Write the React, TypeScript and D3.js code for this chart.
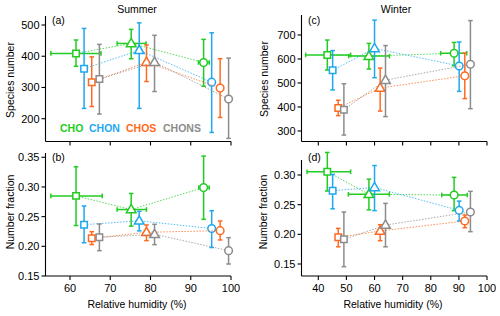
import React from "react";
import * as d3 from "d3";

const SERIES = ["CHO", "CHON", "CHOS", "CHONS"];
const COLORS = ["#22cc22", "#1fa8ef", "#ff6a20", "#8c8c8c"];

// ---- Summer: relative humidity (x) per series, for the three cases (square, triangle, circle)
const summerRH = [
  [61.5, 75.2, 93.2],
  [63.5, 77.2, 95.2],
  [65.4, 79.0, 97.3],
  [67.3, 81.0, 99.4],
];
const summerRHLoA = [55.25, 71.7, 91.9];
const summerRHHiA = [67.7, 78.9, 94.6];
const summerRHLoB = [55.25, 71.7, 92.0];
const summerRHHiB = [68.0, 79.0, 94.6];

// Summer species number
const summerSpecies = [
  [409, 441, 380],
  [360, 419, 317],
  [317, 381, 298],
  [327, 381, 263],
];
const summerSpeciesLo = [
  [368, 392, 304],
  [233, 233, 156],
  [239, 319, 204],
  [215, 287, 137],
];
const summerSpeciesHi = [
  [452, 486, 454],
  [489, 507, 475],
  [398, 436, 392],
  [438, 467, 394],
];

// Summer number fraction
const summerFrac = [
  [0.285, 0.262, 0.299],
  [0.2365, 0.243, 0.23],
  [0.2135, 0.2236, 0.2264],
  [0.2152, 0.2202, 0.1927],
];
const summerFracLo = [
  [0.235, 0.234, 0.2455],
  [0.206, 0.226, 0.198],
  [0.203, 0.2096, 0.2107],
  [0.1927, 0.2028, 0.1702],
];
const summerFracHi = [
  [0.334, 0.289, 0.352],
  [0.268, 0.259, 0.26],
  [0.2247, 0.236, 0.2427],
  [0.2376, 0.2371, 0.2146],
];

// ---- Winter
const winterRH = [
  [43.2, 58.0, 88.3],
  [45.1, 60.0, 90.1],
  [47.1, 62.0, 92.1],
  [49.1, 63.9, 94.1],
];
const winterRHLoC = [35.5, 50.8, 83.5];
const winterRHHiC = [51.5, 65.3, 92.8];
const winterRHLoD = [36.0, 50.7, 83.9];
const winterRHHiD = [51.5, 65.3, 93.0];

const winterSpecies = [
  [617, 612, 624],
  [553, 644, 571],
  [396, 479, 530],
  [389, 512, 578],
];
const winterSpeciesLo = [
  [554, 558, 572],
  [471, 522, 465],
  [364, 383, 435],
  [283, 360, 393],
];
const winterSpeciesHi = [
  [679, 665, 669],
  [635, 762, 671],
  [428, 562, 625],
  [497, 656, 760],
];

const winterFrac = [
  [0.3056, 0.2674, 0.2663],
  [0.2735, 0.279, 0.2404],
  [0.195, 0.2056, 0.2225],
  [0.1916, 0.2157, 0.2376],
];
const winterFracLo = [
  [0.273, 0.2413, 0.24],
  [0.243, 0.24, 0.2225],
  [0.179, 0.1893, 0.2112],
  [0.1455, 0.179, 0.2045],
];
const winterFracHi = [
  [0.338, 0.293, 0.296],
  [0.301, 0.316, 0.256],
  [0.21, 0.2163, 0.2326],
  [0.2376, 0.2522, 0.2725],
];

const summerXTicks = [60, 70, 80, 90, 100];
const winterXTicks = [40, 50, 60, 70, 80, 90, 100];
const speciesTicksSummer = [200, 300, 400, 500];
const speciesTicksWinter = [300, 400, 500, 600, 700];
const fracTicksSummer = [0.15, 0.2, 0.25, 0.3, 0.35];
const fracTicksWinter = [0.15, 0.2, 0.25, 0.3];

const FONT = "'Liberation Sans', Arial, Helvetica, sans-serif";

type PanelProps = {
  x: d3.ScaleLinear<number, number>;
  y: d3.ScaleLinear<number, number>;
  xExtent: [number, number];
  yExtent: [number, number];
  xTicks: number[];
  yTicks: number[];
  showXLabels: boolean;
  yFormat: (v: number) => string;
  rh: number[][];
  rhLo: number[];
  rhHi: number[];
  val: number[][];
  lo: number[][];
  hi: number[][];
};

const symbols = [d3.symbolSquare, d3.symbolTriangle, d3.symbolCircle];
const symbolSizes = [42, 40, 46];

function Panel(p: PanelProps) {
  const { x, y, xExtent, yExtent } = p;
  const cap = 2.3;
  return (
    <g>
      {/* axes */}
      <line x1={xExtent[0]} x2={xExtent[1]} y1={yExtent[0]} y2={yExtent[0]} stroke="#000" strokeWidth={1.1} />
      <line x1={xExtent[0]} x2={xExtent[0]} y1={yExtent[0]} y2={yExtent[1]} stroke="#000" strokeWidth={1.1} />
      {p.xTicks.map((t) => (
        <g key={"xt" + t}>
          <line x1={x(t)} x2={x(t)} y1={yExtent[0]} y2={yExtent[0] + 4} stroke="#000" strokeWidth={1.1} />
          {p.showXLabels && (
            <text x={x(t)} y={yExtent[0] + 16} textAnchor="middle" fontSize={11} fontFamily={FONT}>
              {t}
            </text>
          )}
        </g>
      ))}
      {p.yTicks.map((t) => (
        <g key={"yt" + t}>
          <line x1={xExtent[0] - 4} x2={xExtent[0]} y1={y(t)} y2={y(t)} stroke="#000" strokeWidth={1.1} />
          <text x={xExtent[0] - 6} y={y(t) + 4} textAnchor="end" fontSize={11} fontFamily={FONT}>
            {p.yFormat(t)}
          </text>
        </g>
      ))}
      {/* series */}
      {SERIES.map((s, si) => {
        const col = COLORS[si];
        const pts = p.rh[si].map((r, k) => [x(r), y(p.val[si][k])] as [number, number]);
        const path = d3.line()(pts) || "";
        return (
          <g key={s}>
            <path d={path} fill="none" stroke={col} strokeWidth={1} strokeDasharray="1.5 1.5" opacity={0.75} />
            {p.rh[si].map((r, k) => {
              const cx = x(r);
              const cy = y(p.val[si][k]);
              const y1 = y(p.lo[si][k]);
              const y2 = y(p.hi[si][k]);
              return (
                <g key={k}>
                  <line x1={cx} x2={cx} y1={y1} y2={y2} stroke={col} strokeWidth={1.5} />
                  <line x1={cx - cap} x2={cx + cap} y1={y1} y2={y1} stroke={col} strokeWidth={1.5} />
                  <line x1={cx - cap} x2={cx + cap} y1={y2} y2={y2} stroke={col} strokeWidth={1.5} />
                  {si === 0 && (
                    <g>
                      <line x1={x(p.rhLo[k])} x2={x(p.rhHi[k])} y1={cy} y2={cy} stroke={col} strokeWidth={1.5} />
                      <line x1={x(p.rhLo[k])} x2={x(p.rhLo[k])} y1={cy - cap} y2={cy + cap} stroke={col} strokeWidth={1.5} />
                      <line x1={x(p.rhHi[k])} x2={x(p.rhHi[k])} y1={cy - cap} y2={cy + cap} stroke={col} strokeWidth={1.5} />
                    </g>
                  )}
                  <path
                    d={d3.symbol().type(symbols[k]).size(symbolSizes[k])() || ""}
                    transform={`translate(${cx},${cy + (k === 1 ? 0.5 : 0)})`}
                    fill="#fff"
                    stroke={col}
                    strokeWidth={1.5}
                  />
                </g>
              );
            })}
          </g>
        );
      })}
    </g>
  );
}

export default function App() {
  // Scales anchored on tick positions
  const xS = d3.scaleLinear().domain([60, 100]).range([70, 231]);
  const xW = d3.scaleLinear().domain([40, 100]).range([318.3, 487]);
  const yA = d3.scaleLinear().domain([200, 500]).range([118.7, 25]);
  const yB = d3.scaleLinear().domain([0.15, 0.35]).range([276, 157.3]);
  const yC = d3.scaleLinear().domain([300, 700]).range([131, 35]);
  const yD = d3.scaleLinear().domain([0.15, 0.3]).range([264, 175]);
  const f2 = d3.format(".2f");
  const f0 = d3.format("d");

  return (
    <svg
      width={500}
      height={316}
      style={{ position: "absolute", left: 0, top: 0, background: "#fff" }}
      fontFamily={FONT}
    >
      <rect width={500} height={316} fill="#fff" />
      <text x={137} y={13} textAnchor="middle" fontSize={10.5}>Summer</text>
      <text x={396} y={13} textAnchor="middle" fontSize={10.5}>Winter</text>

      <Panel x={xS} y={yA} xExtent={[45.5, 231]} yExtent={[141.5, 16]} xTicks={summerXTicks}
        yTicks={speciesTicksSummer} showXLabels={false} yFormat={f0}
        rh={summerRH} rhLo={summerRHLoA} rhHi={summerRHHiA}
        val={summerSpecies} lo={summerSpeciesLo} hi={summerSpeciesHi} />
      <Panel x={xS} y={yB} xExtent={[45.5, 231]} yExtent={[276, 153]} xTicks={summerXTicks}
        yTicks={fracTicksSummer} showXLabels={true} yFormat={f2}
        rh={summerRH} rhLo={summerRHLoB} rhHi={summerRHHiB}
        val={summerFrac} lo={summerFracLo} hi={summerFracHi} />
      <Panel x={xW} y={yC} xExtent={[301.5, 487]} yExtent={[141.5, 15]} xTicks={winterXTicks}
        yTicks={speciesTicksWinter} showXLabels={false} yFormat={f0}
        rh={winterRH} rhLo={winterRHLoC} rhHi={winterRHHiC}
        val={winterSpecies} lo={winterSpeciesLo} hi={winterSpeciesHi} />
      <Panel x={xW} y={yD} xExtent={[301.5, 487]} yExtent={[276, 160]} xTicks={winterXTicks}
        yTicks={fracTicksWinter} showXLabels={true} yFormat={f2}
        rh={winterRH} rhLo={winterRHLoD} rhHi={winterRHHiD}
        val={winterFrac} lo={winterFracLo} hi={winterFracHi} />

      {/* panel labels */}
      <text x={52} y={24} fontSize={10.5}>(a)</text>
      <text x={52} y={161} fontSize={10.5}>(b)</text>
      <text x={308} y={24} fontSize={10.5}>(c)</text>
      <text x={308} y={161} fontSize={10.5}>(d)</text>

      {/* legend */}
      {SERIES.map((s, i) => (
        <text key={s} x={[60, 89, 126, 163][i]} y={132} fontSize={10.5} fontWeight="bold" fill={COLORS[i]}>
          {s}
        </text>
      ))}

      {/* axis titles */}
      <text transform="translate(14,80) rotate(-90)" textAnchor="middle" fontSize={10.5}>Species number</text>
      <text transform="translate(14,212) rotate(-90)" textAnchor="middle" fontSize={10.5}>Number fraction</text>
      <text transform="translate(268,79) rotate(-90)" textAnchor="middle" fontSize={10.5}>Species number</text>
      <text transform="translate(267,212) rotate(-90)" textAnchor="middle" fontSize={10.5}>Number fraction</text>
      <text x={137} y={308} textAnchor="middle" fontSize={10.5}>Relative humidity (%)</text>
      <text x={393} y={308} textAnchor="middle" fontSize={10.5}>Relative humidity (%)</text>
    </svg>
  );
}
